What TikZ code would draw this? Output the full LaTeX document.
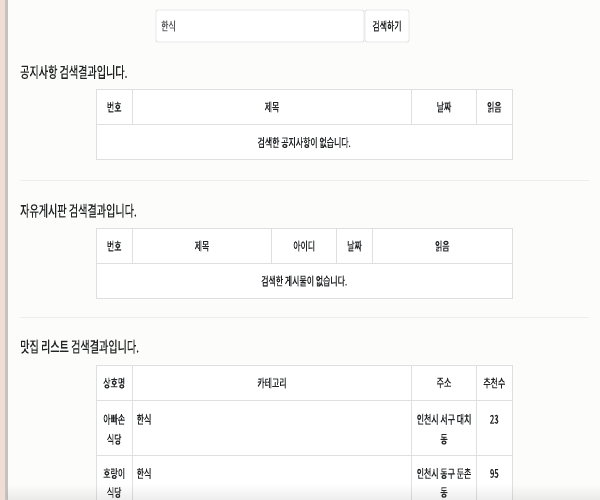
\documentclass[tikz,border=0pt]{standalone}
\usepackage{fontspec}
\setmainfont{Noto Sans CJK KR}[FakeStretch=0.66,FakeBold=0.35]
\definecolor{bg}{RGB}{252,253,251}
\definecolor{pinkstrip}{RGB}{240,222,214}
\definecolor{greystrip}{RGB}{198,194,192}
\definecolor{bordercol}{RGB}{222,224,224}
\definecolor{seplinecol}{RGB}{236,238,236}
\definecolor{txt}{RGB}{33,35,37}
\definecolor{inputtxt}{RGB}{85,87,89}
\tikzset{
  cellline/.style={draw=bordercol, line width=0.8pt},
  title/.style={anchor=west, inner sep=0pt, font=\fontsize{15.3}{17}\selectfont, text=txt},
  head/.style={inner sep=0pt, font=\fontsize{12}{14}\selectfont, text=txt},
  cell/.style={inner sep=0pt, font=\fontsize{12}{14}\selectfont, text=txt},
  sepline/.style={draw=seplinecol, line width=0.8pt}
}
\begin{document}
\begin{tikzpicture}[x=1pt,y=-1pt]
\useasboundingbox (0,0) rectangle (600,500);
\fill[bg] (0,0) rectangle (600,500);
\fill[pinkstrip] (0,0) rectangle (5,500);
\fill[greystrip] (5,0) rectangle (7.5,500);

% search bar
\draw[cellline, fill=white, rounded corners=2pt] (156,10) rectangle (364,42);
\draw[cellline, fill=white, rounded corners=2pt] (365,10) rectangle (409,42);
\node[cell, anchor=west, text=inputtxt] (q) at (161,26) {한식};
\node[cell] (btn) at (387,26) {검색하기};

% ---------- section 1 ----------
\node[title] (t1) at (20,72) {공지사항 검색결과입니다.};
\fill[white] (96,89.3) rectangle (512.3,159.3);
\draw[cellline] (96,89.3) rectangle (512.3,159.3);
\draw[cellline] (96,124.7) -- (512.3,124.7);
\foreach \x in {132.3,411.7,476.3} \draw[cellline] (\x,89.3) -- (\x,124.7);
\node[head] (a1) at (114.2,107) {번호};
\node[head] (a2) at (272,107) {제목};
\node[head] (a3) at (444,107) {날짜};
\node[head] (a4) at (494.3,107) {읽음};
\node[cell] (a5) at (304.2,142.5) {검색한 공지사항이 없습니다.};
\draw[sepline] (20,180) -- (589,180);

% ---------- section 2 ----------
\node[title] (t2) at (20,210.7) {자유게시판 검색결과입니다.};
\fill[white] (96,228.3) rectangle (512.3,298.3);
\draw[cellline] (96,228.3) rectangle (512.3,298.3);
\draw[cellline] (96,263.3) -- (512.3,263.3);
\foreach \x in {132.3,271.7,336.7,372.3} \draw[cellline] (\x,228.3) -- (\x,263.3);
\node[head] (b1) at (114.2,246) {번호};
\node[head] (b2) at (202,246) {제목};
\node[head] (b3) at (304.2,246) {아이디};
\node[head] (b4) at (354.5,246) {날짜};
\node[head] (b5) at (442.3,246) {읽음};
\node[cell] (b6) at (304.2,281) {검색한 게시물이 없습니다.};
\draw[sepline] (20,317.7) -- (589,317.7);

% ---------- section 3 ----------
\node[title] (t3) at (20,346.7) {맛집 리스트 검색결과입니다.};
\fill[white] (96,365.7) rectangle (512.3,502);
\draw[cellline] (96,502) -- (96,365.7) -- (512.3,365.7) -- (512.3,502);
\draw[cellline] (96,400.7) -- (512.3,400.7);
\draw[cellline] (96,455) -- (512.3,455);
\foreach \x in {132.3,411.7,476.3} \draw[cellline] (\x,365.7) -- (\x,502);
\node[head] (c1) at (114.2,383) {상호명};
\node[head] (c2) at (272,383) {카테고리};
\node[head] (c3) at (444,383) {주소};
\node[head] (c4) at (494.3,383) {추천수};

\node[cell] (r1a) at (114.2,419.3) {아빠손};
\node[cell] (r1b) at (114.2,439.3) {식당};
\node[cell, anchor=west] (r1c) at (136.5,419.3) {한식};
\node[cell] (r1d) at (444,419.3) {인천시 서구 대치};
\node[cell] (r1e) at (444,439.3) {동};
\node[cell] (r1f) at (494.3,419.3) {23};

\node[cell] (r2a) at (114.2,473.5) {호랑이};
\node[cell] (r2b) at (114.2,492.5) {식당};
\node[cell, anchor=west] (r2c) at (136.5,473.5) {한식};
\node[cell] (r2d) at (444,473.5) {인천시 동구 둔촌};
\node[cell] (r2e) at (444,492.5) {동};
\node[cell] (r2f) at (494.3,473.5) {95};

% bottom shadow
\shade[top color=white, bottom color=black, opacity=0.07] (7.5,484) rectangle (600,500);
\end{tikzpicture}
\end{document}
